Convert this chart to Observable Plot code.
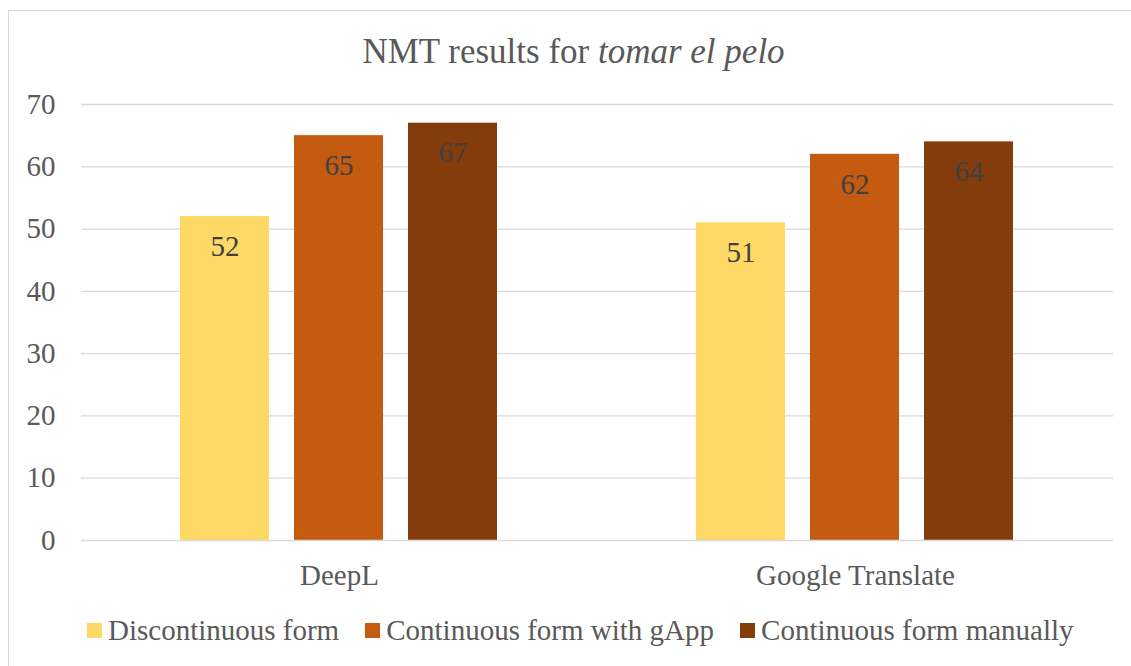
<!DOCTYPE html>
<html>
<head>
<meta charset="utf-8">
<script src="https://cdn.jsdelivr.net/npm/d3@7"></script>
<script src="https://cdn.jsdelivr.net/npm/@observablehq/plot@0.6"></script>
<style>
  html, body { margin: 0; padding: 0; background: #fff; }
  #wrap { position: relative; width: 1131px; height: 666px; overflow: hidden; color: #595959; font-family: "Liberation Serif", "Times New Roman", serif; }
  #border { position: absolute; left: 8px; top: 10px; width: 1140px; height: 680px; border: 1.5px solid #d9d9d9; box-sizing: border-box; }
  #title { position: absolute; left: 16px; width: 1115px; top: 34px; text-align: center; font-size: 35px; line-height: 35px; white-space: nowrap; }
  #plot { position: absolute; left: 0; top: 0; }
  #legend { position: absolute; left: 87px; top: 616px; display: flex; align-items: center; font-size: 29px; line-height: 29px; white-space: nowrap; }
  .item { display: flex; align-items: center; margin-right: 26px; }
  .sw { width: 15px; height: 15px; margin-right: 6px; flex: none; }
</style>
</head>
<body>
<div id="wrap">
  <div id="border"></div>
  <div id="title">NMT results for <i>tomar el pelo</i></div>
  <div id="plot"></div>
  <div id="legend"></div>
</div>
<script>
const categories = ["DeepL", "Google Translate"];
const series = ["Discontinuous form", "Continuous form with gApp", "Continuous form manually"];
const deeplValues = [52, 65, 67];
const googleValues = [51, 62, 64];
const colors = ["#FFD966", "#C55A11", "#843C0C"];
const yTicks = [0, 10, 20, 30, 40, 50, 60, 70];

const valuesByCat = [deeplValues, googleValues];
const data = [];
categories.forEach((c, i) => series.forEach((s, j) => data.push({cat: c, series: s, value: valuesByCat[i][j]})));

const serifStack = '"Liberation Serif", "Times New Roman", serif';

const chart = Plot.plot({
  width: 1131,
  height: 600,
  marginTop: 104,
  marginBottom: 60,
  marginLeft: 80,
  marginRight: 18,
  style: {fontFamily: serifStack, fontSize: "29px", color: "#595959", background: "transparent", overflow: "visible"},
  fx: {domain: categories, padding: 0, axis: "bottom", tickSize: 0, tickPadding: 24, label: null},
  x: {domain: series, paddingInner: 0.217, paddingOuter: 0.852, axis: null},
  y: {domain: [0, 70], ticks: yTicks, tickSize: 0, tickPadding: 26, label: null, tickFormat: d => String(d)},
  color: {domain: series, range: colors},
  marks: [
    Plot.ruleY(yTicks.filter(d => d > 0), {stroke: "#d9d9d9", strokeWidth: 1.3}),
    Plot.barY(data, {fx: "cat", x: "series", y: "value", fill: "series"}),
    Plot.ruleY([0], {stroke: "#d9d9d9", strokeWidth: 1.5}),
    Plot.text(data, {fx: "cat", x: "series", y: "value", text: d => String(d.value), dy: 30, fill: "#404040", fontSize: 29})
  ]
});
document.getElementById("plot").appendChild(chart);

const legend = document.getElementById("legend");
series.forEach((s, i) => {
  const item = document.createElement("div");
  item.className = "item";
  const sw = document.createElement("div");
  sw.className = "sw";
  sw.style.background = colors[i];
  const t = document.createElement("span");
  t.textContent = s;
  item.appendChild(sw);
  item.appendChild(t);
  legend.appendChild(item);
});

document.querySelectorAll("#wrap, #wrap *").forEach(el => {
  el.style.fontFamily = serifStack;
});
chart.querySelectorAll("text, tspan").forEach(el => {
  el.style.fontSize = "29px";
});
</script>
</body>
</html>
